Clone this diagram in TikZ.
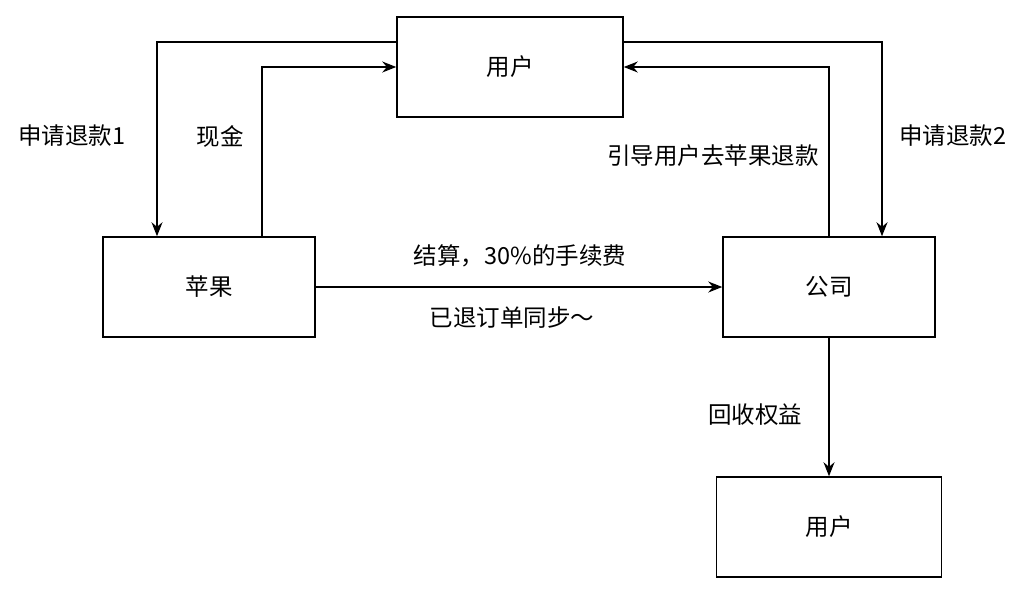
\documentclass[tikz,border=0pt]{standalone}
\usepackage{fontspec}
\setmainfont{Noto Sans CJK SC}
\usetikzlibrary{arrows.meta}
\begin{document}
\begin{tikzpicture}[x=1pt, y=-1pt, every node/.style={font=\fontsize{23.5}{26}\selectfont},
    box/.style={draw, line width=1.5pt, minimum width=212pt, minimum height=100pt, inner sep=0pt},
    flow/.style={line width=1.5pt, -{Stealth[length=14pt, width=11pt]}}]
      \useasboundingbox (0,0) rectangle (1022,598);
      % Boxes
      \node[box, minimum width=226pt] (user) at (510,67) {用户};
      \node[box] (apple) at (209,287) {苹果};
      \node[box] (company) at (829,287) {公司};
      \node[box, minimum width=225pt] (user2) at (829,527) {用户};

      % Connectors
      \draw[flow] (user.west |- 0,42) -| (apple.north -| 157,0);
      \draw[flow] (apple.north -| 262,0) |- (user.west);
      \draw[flow] (user.east |- 0,42) -| (company.north -| 882,0);
      \draw[flow] (company.north) |- (user.east);
      \draw[flow] (apple) -- (company);
      \draw[flow] (company) -- (user2);

      % Labels
      \node (refund1) at (72,136) {申请退款1};
      \node (cash) at (220,136) {现金};
      \node (guide) at (713,156) {引导用户去苹果退款};
      \node (refund2) at (953,136) {申请退款2};
      \node (settle) at (520,256) {结算，30\%的手续费};
      \node (sync) at (512,318) {已退订单同步～};
      \node (reclaim) at (755,415) {回收权益};
\end{tikzpicture}
\end{document}
